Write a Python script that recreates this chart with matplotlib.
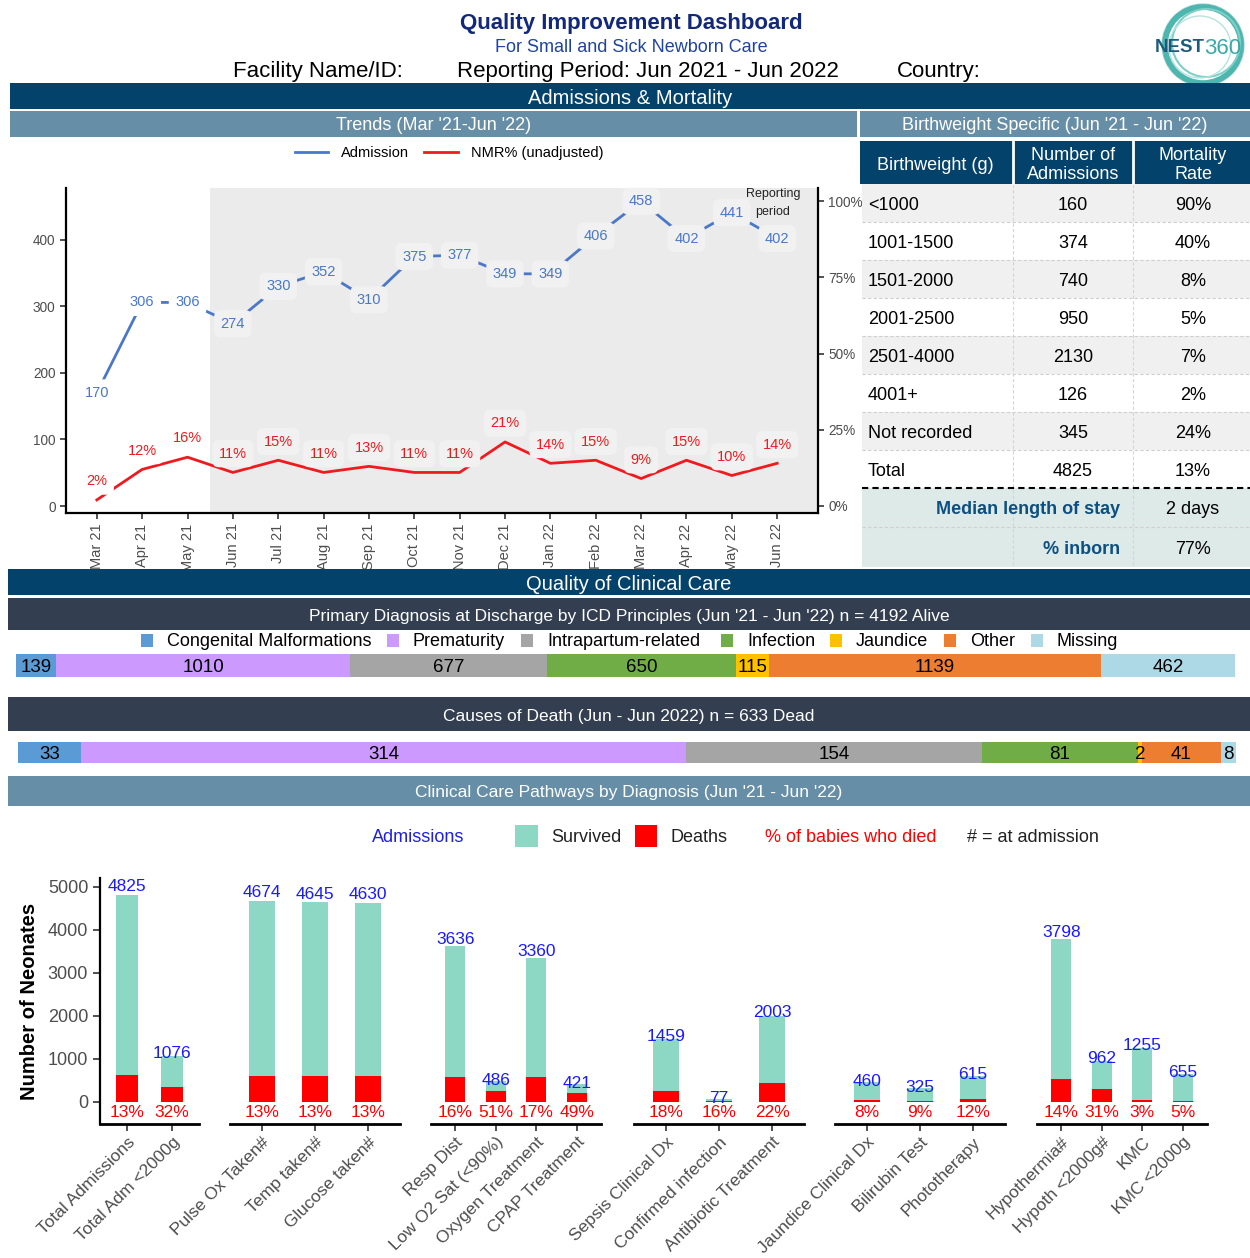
import numpy as np
import matplotlib
matplotlib.use('Agg')
import matplotlib.pyplot as plt
from matplotlib.patches import Rectangle, Circle

plt.rcParams['font.family'] = ['Liberation Sans', 'DejaVu Sans']

# ---- trends ----
months = ['Mar 21', 'Apr 21', 'May 21', 'Jun 21', 'Jul 21', 'Aug 21', 'Sep 21',
          'Oct 21', 'Nov 21', 'Dec 21', 'Jan 22', 'Feb 22', 'Mar 22', 'Apr 22',
          'May 22', 'Jun 22']
admissions = [170, 306, 306, 274, 330, 352, 310, 375, 377, 349, 349, 406, 458, 402, 441, 402]
nmr_pct = [2, 12, 16, 11, 15, 11, 13, 11, 11, 21, 14, 15, 9, 15, 10, 14]

# ---- birthweight table ----
bw_groups = ['<1000', '1001-1500', '1501-2000', '2001-2500', '2501-4000', '4001+',
             'Not recorded', 'Total']
bw_admissions = [160, 374, 740, 950, 2130, 126, 345, 4825]
bw_mortality = ['90%', '40%', '8%', '5%', '7%', '2%', '24%', '13%']
median_stay = '2 days'
pct_inborn = '77%'

# ---- diagnosis / causes of death ----
cause_labels = ['Congenital Malformations', 'Prematurity', 'Intrapartum-related',
                'Infection', 'Jaundice', 'Other', 'Missing']
alive_counts = [139, 1010, 677, 650, 115, 1139, 462]
death_counts = [33, 314, 154, 81, 2, 41, 8]

# ---- clinical care pathways ----
pathways = ['Total Admissions', 'Total Adm <2000g', 'Pulse Ox Taken#', 'Temp taken#',
            'Glucose taken#', 'Resp Dist', 'Low O2 Sat (<90%)', 'Oxygen Treatment',
            'CPAP Treatment', 'Sepsis Clinical Dx', 'Confirmed infection',
            'Antibiotic Treatment', 'Jaundice Clinical Dx', 'Bilirubin Test',
            'Phototherapy', 'Hypothermia#', 'Hypoth <2000g#', 'KMC', 'KMC <2000g']
pathway_n = [4825, 1076, 4674, 4645, 4630, 3636, 486, 3360, 421, 1459, 77, 2003,
             460, 325, 615, 3798, 962, 1255, 655]
pathway_deaths = [633, 344, 608, 604, 602, 582, 248, 571, 206, 263, 12, 441,
                  37, 29, 74, 532, 298, 38, 33]
pathway_pct = [13, 32, 13, 13, 13, 16, 51, 17, 49, 18, 16, 22, 8, 9, 12, 14, 31, 3, 5]
group_sizes = [2, 3, 4, 3, 3, 4]

# colours
navy = '#03426b'
steel = '#678ea7'
slate = '#333f51'
blue = '#4a78c8'
red = '#f01a1e'
teal = '#8dd7c5'
cause_colors = ['#5b9bd5', '#cc99ff', '#a5a5a5', '#70ad47', '#ffc000', '#ed7d31', '#add8e6']
gray_txt = '#4d4d4d'

W, H = 1250, 1258
fig = plt.figure(figsize=(12.5, 12.58), dpi=100)


def box(x0, y0, x1, y1):
    # pixel box -> figure fraction
    return [x0 / W, 1 - y1 / H, (x1 - x0) / W, (y1 - y0) / H]


# overlay in pixel coordinates for bands, table and header
ov = fig.add_axes([0, 0, 1, 1], zorder=10)
ov.set_xlim(0, W)
ov.set_ylim(H, 0)
ov.axis('off')


def band(x0, y0, x1, y1, color, text=None, fs=13):
    ov.add_patch(Rectangle((x0, y0), x1 - x0, y1 - y0, fc=color, ec='none'))
    if text:
        ov.text((x0 + x1) / 2, (y0 + y1) / 2 + 2, text, color='white', ha='center',
                va='center', fontsize=fs)


# header
ov.text(631, 24, 'Quality Improvement Dashboard', ha='center', va='center',
        fontsize=16, fontweight='bold', color='#12287a')
ov.text(631, 47, 'For Small and Sick Newborn Care', ha='center', va='center',
        fontsize=13, color='#1f44a0')
ov.text(233, 72, 'Facility Name/ID:', ha='left', va='center', fontsize=16)
ov.text(457, 72, 'Reporting Period: Jun 2021 - Jun 2022', ha='left', va='center', fontsize=16)
ov.text(897, 72, 'Country:', ha='left', va='center', fontsize=16)

# logo
ov.add_patch(Circle((1203, 45), 38, fc='none', ec='#39b0a6', lw=4, alpha=0.9))
ov.add_patch(Circle((1206, 43), 34, fc='none', ec='#7fcfc6', lw=1.5))
ov.add_patch(Circle((1200, 47), 31, fc='none', ec='#b5e4de', lw=1))
ov.add_patch(Circle((1203, 45), 41, fc='none', ec='#2a9a96', lw=0.8, alpha=0.5))
ov.text(1205, 48, 'NEST', ha='right', va='center', fontsize=13.5, fontweight='bold',
        color='#1b5b7c')
ov.text(1204, 48, '360', ha='left', va='center', fontsize=16, color='#3aa9a9')

band(10, 83, 1250, 109, navy, 'Admissions & Mortality', 14.5)
band(10, 111, 857, 137, steel, "Trends (Mar '21-Jun '22)", 13)
band(860, 111, 1250, 137, steel, "Birthweight Specific (Jun '21 - Jun '22)", 13)

# ---- trends chart ----
ax = fig.add_axes(box(66, 188, 818, 513))
x = np.arange(len(months))
ax.axvspan(2.5, 16, color='#ebebeb', lw=0, zorder=0)
ax.plot(x, admissions, color=blue, lw=2, zorder=2, label='Admission')
for xi, v in zip(x, admissions):
    fc = 'white' if xi < 2.5 else '#f1f1f1'
    ax.text(xi, v, str(v), ha='center', va='center', color=blue, fontsize=10.5, zorder=3,
            bbox=dict(boxstyle='round,pad=0.45', fc=fc, ec='none'))
ax.set_xlim(-0.68, 15.9)
ax.set_ylim(-10.5, 478)
ax.set_yticks([0, 100, 200, 300, 400])
ax.set_xticks(x)
ax.set_xticklabels(months, rotation=90, fontsize=10.5, color=gray_txt)
ax.tick_params(axis='y', labelsize=9.8, labelcolor=gray_txt)
ax.tick_params(length=4, width=1.2, color='#333333')
for s in ['top', 'right']:
    ax.spines[s].set_visible(False)
for s in ['left', 'bottom']:
    ax.spines[s].set_linewidth(1.6)

ax2 = ax.twinx()
ax2.plot(x, nmr_pct, color=red, lw=2, label='NMR% (unadjusted)')
for xi, v in zip(x, nmr_pct):
    fc = 'white' if xi < 2.5 else '#f1f1f1'
    ax2.annotate(f'{v}%', (xi, v), xytext=(0, 13.5), textcoords='offset points',
                 ha='center', va='center', color=red, fontsize=10.5,
                 bbox=dict(boxstyle='round,pad=0.45', fc=fc, ec='none'))
ax2.set_ylim(-2.3, 104.3)
ax2.set_yticks([0, 25, 50, 75, 100])
ax2.set_yticklabels(['0%', '25%', '50%', '75%', '100%'])
ax2.tick_params(length=4, width=1.2, color='#333333', labelsize=9.8, labelcolor=gray_txt)
for s in ['top', 'left', 'bottom']:
    ax2.spines[s].set_visible(False)
ax2.spines['right'].set_linewidth(1.6)

fig.legend(handles=ax.get_lines() + ax2.get_lines(), loc='center',
           bbox_to_anchor=(449 / W, 1 - 153 / H), ncol=2, frameon=False,
           fontsize=10.5, handlelength=2.3, handletextpad=0.9, columnspacing=1.0)
ov.text(773, 203, 'Reporting\nperiod', ha='center', va='center', fontsize=9,
        linespacing=1.7, color='#222222')

# ---- birthweight table ----
band(860, 141, 1250, 184, navy)
ov.plot([1013, 1013], [141, 184], color='white', lw=2)
ov.plot([1133, 1133], [141, 184], color='white', lw=2)
ov.text(935, 165, 'Birthweight (g)', ha='center', va='center', color='white', fontsize=13)
ov.text(1073, 165, 'Number of\nAdmissions', ha='center', va='center', color='white',
        fontsize=13, linespacing=1.2)
ov.text(1193, 165, 'Mortality\nRate', ha='center', va='center', color='white',
        fontsize=13, linespacing=1.2)
row_h = 38
for i, (g, n, m) in enumerate(zip(bw_groups, bw_admissions, bw_mortality)):
    y0 = 184 + i * row_h
    ov.add_patch(Rectangle((862, y0), 388, row_h, fc='#f0f0f0' if i % 2 == 0 else 'white',
                           ec='none'))
    yc = y0 + row_h / 2 + 2
    ov.text(868, yc, g, ha='left', va='center', fontsize=13)
    ov.text(1073, yc, str(n), ha='center', va='center', fontsize=13)
    ov.text(1193, yc, m, ha='center', va='center', fontsize=13)
    if i > 0:
        ov.plot([862, 1250], [y0, y0], color='#cfcfcf', lw=0.8, ls=(0, (3, 2)))
ov.add_patch(Rectangle((862, 488), 388, 79, fc='#deeae8', ec='none'))
ov.plot([862, 1250], [527, 527], color='#cfcfcf', lw=0.8, ls=(0, (3, 2)))
for xv in [1013, 1133]:
    ov.plot([xv, xv], [184, 567], color='#d4d4d4', lw=0.8, ls=(0, (3, 2)))
ov.plot([862, 1250], [488, 488], color='black', lw=1.5, ls=(0, (3, 2)))
ov.text(1120, 510, 'Median length of stay', ha='right', va='center', fontsize=13,
        fontweight='bold', color='#0d4f80')
ov.text(1193, 510, median_stay, ha='center', va='center', fontsize=13)
ov.text(1120, 549, '% inborn', ha='right', va='center', fontsize=13,
        fontweight='bold', color='#0d4f80')
ov.text(1193, 549, pct_inborn, ha='center', va='center', fontsize=13)

# ---- quality of clinical care ----
band(8, 569, 1250, 595, navy, 'Quality of Clinical Care', 14.5)
band(8, 598, 1250, 630, slate,
     "Primary Diagnosis at Discharge by ICD Principles (Jun '21 - Jun '22) n = 4192 Alive", 12.5)
band(8, 697, 1250, 731, slate, 'Causes of Death (Jun - Jun 2022) n = 633 Dead', 12.5)
band(8, 776, 1250, 806, steel, "Clinical Care Pathways by Diagnosis (Jun '21 - Jun '22)", 12.5)

leg_x = [141, 387, 521, 721, 830, 944, 1031]
for lx, lab, c in zip(leg_x, cause_labels, cause_colors):
    ov.add_patch(Rectangle((lx, 634), 12, 13, fc=c, ec='none'))
    ov.text(lx + 26, 642, lab, ha='left', va='center', fontsize=13)


def stacked(rect, counts):
    a = fig.add_axes(box(*rect))
    left = 0
    for v, c in zip(counts, cause_colors):
        a.barh(0, v, left=left, height=1, color=c, lw=0)
        a.text(left + v / 2, 0.08, str(v), ha='center', va='center', fontsize=13.5)
        left += v
    a.set_xlim(0, sum(counts))
    a.set_ylim(0.5, -0.5)
    a.axis('off')


stacked((16, 654, 1235, 677), alive_counts)
stacked((18, 742, 1236, 763), death_counts)

# bottom legend
ov.text(372, 838, 'Admissions', ha='left', va='center', fontsize=13, color='#1f1fe6')
ov.add_patch(Rectangle((515, 825), 23, 22, fc=teal, ec='none'))
ov.text(551, 838, 'Survived', ha='left', va='center', fontsize=13, color='#222222')
ov.add_patch(Rectangle((635, 825), 22, 22, fc='#ff0000', ec='none'))
ov.text(670, 838, 'Deaths', ha='left', va='center', fontsize=13, color='#222222')
ov.text(765, 838, '% of babies who died', ha='left', va='center', fontsize=13, color='#ff0000')
ov.text(967, 838, '# = at admission', ha='left', va='center', fontsize=13, color='#222222')

# ---- pathway bar panels ----
panel_x = [(100, 199), (230, 400), (431, 601), (634, 804), (835, 1005), (1037, 1207)]
start = 0
for k, (n, (x0, x1)) in enumerate(zip(group_sizes, panel_x)):
    sl = slice(start, start + n)
    start += n
    tot = np.array(pathway_n[sl])
    dead = np.array(pathway_deaths[sl])
    pa = fig.add_axes(box(x0, 878, x1, 1124))
    xs = np.arange(n)
    pa.bar(xs, dead, width=0.5, color='#ff0000', lw=0)
    pa.bar(xs, tot - dead, bottom=dead, width=0.5, color=teal, lw=0)
    for xi, t, p in zip(xs, tot, pathway_pct[sl]):
        pa.text(xi, t * 1.04, str(t), ha='center', va='center', fontsize=12.5,
                color='#1a1aff')
        pa.text(xi, -240, f'{p}%', ha='center', va='center', fontsize=12.5,
                color='#ff0000')
    pa.set_xlim(-0.6, n - 0.4)
    pa.set_ylim(-512, 5209)
    pa.set_xticks(xs)
    pa.set_xticklabels(pathways[sl], rotation=45, ha='right', va='top',
                       rotation_mode='anchor', fontsize=12.6, color=gray_txt)
    pa.tick_params(axis='x', length=5, width=1.2, color='#333333', pad=2.5)
    for s in ['top', 'right']:
        pa.spines[s].set_visible(False)
    pa.spines['bottom'].set_linewidth(2)
    if k == 0:
        pa.spines['left'].set_linewidth(1.6)
        pa.set_yticks([0, 1000, 2000, 3000, 4000, 5000])
        pa.tick_params(axis='y', length=5, width=1.2, color='#333333',
                       labelsize=13, labelcolor=gray_txt)
        pa.set_ylabel('Number of Neonates', fontsize=14.5, fontweight='bold', labelpad=6)
    else:
        pa.spines['left'].set_visible(False)
        pa.set_yticks([])

fig.savefig('out.png', dpi=100)
